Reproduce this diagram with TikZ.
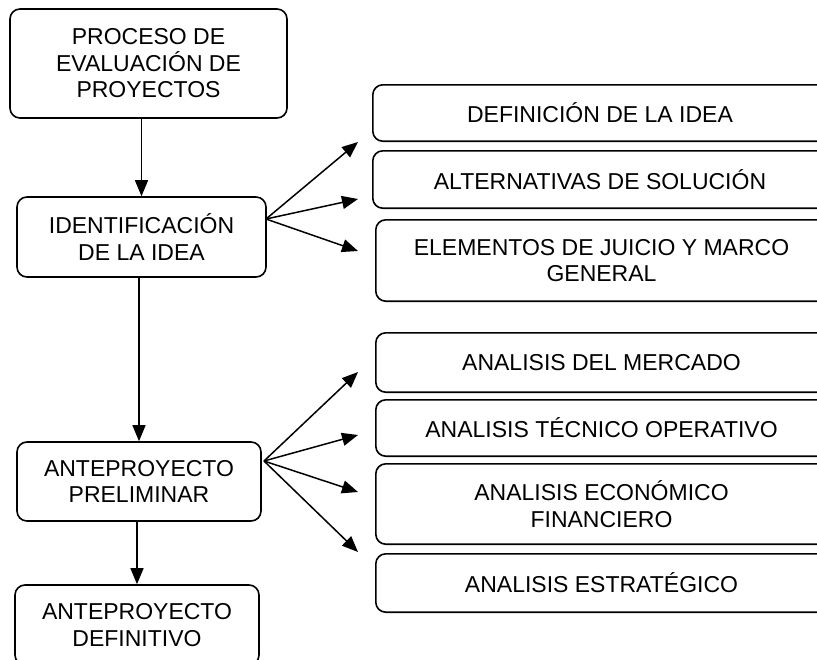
\documentclass[tikz,border=0pt]{standalone}
\usepackage{fontspec}
\setmainfont{Liberation Sans}
\usetikzlibrary{arrows.meta,calc}
\begin{document}
\begin{tikzpicture}[x=1pt,y=-1pt,
  box/.style={draw, line width=1.6pt, rounded corners=10pt, align=center, inner sep=0pt,
    font=\fontsize{23}{26.5}\selectfont},
  rbox/.style={align=center, inner sep=0pt, font=\fontsize{23}{26.5}\selectfont},
  rline/.style={draw, line width=1.6pt, rounded corners=10pt},
  arr/.style={line width=1.5pt, -{Triangle[length=16pt,width=13pt]}}]
\useasboundingbox (0,0) rectangle (817,659);
\clip (0,0) rectangle (817,659);
\node[box, minimum width=277pt, minimum height=109pt] (top) at (148.5,63.5) {PROCESO DE\\EVALUACIÓN DE\\PROYECTOS};
\node[box, minimum width=249pt, minimum height=80pt] (ident) at (141.5,237) {IDENTIFICACIÓN\\DE LA IDEA};
\node[box, minimum width=244pt, minimum height=79pt] (prel) at (139,481.5) {ANTEPROYECTO\\PRELIMINAR};
\node[box, minimum width=244pt, minimum height=80pt] (defi) at (137,625) {ANTEPROYECTO\\DEFINITIVO};
\node[rbox, minimum width=454pt, minimum height=56pt] (d1) at (600,113) {DEFINICIÓN DE LA IDEA};
\node[rbox, minimum width=454pt, minimum height=57pt] (d2) at (600,179.5) {ALTERNATIVAS DE SOLUCIÓN};
\node[rbox, minimum width=451pt, minimum height=81pt] (d3) at (601.5,260.5) {ELEMENTOS DE JUICIO Y MARCO\\GENERAL};
\node[rbox, minimum width=451pt, minimum height=59pt] (a1) at (601.5,362.5) {ANALISIS DEL MERCADO};
\node[rbox, minimum width=451pt, minimum height=56pt] (a2) at (601.5,428) {ANALISIS TÉCNICO OPERATIVO};
\node[rbox, minimum width=451pt, minimum height=80pt] (a3) at (601.5,504) {ANALISIS ECONÓMICO\\FINANCIERO};
\node[rbox, minimum width=451pt, minimum height=58pt] (a4) at (601.5,583) {ANALISIS ESTRATÉGICO};
\foreach \n in {d1,d2,d3,a1,a2,a3,a4}
  \draw[rline] (\n.north west) rectangle ($(\n.south east)+(40,0)$);
\draw[arr] (top.south -| ident.north) -- (ident.north);
\draw[arr] (ident.south -| prel.north) -- (prel.north);
\draw[arr] (prel.south -| defi.north) -- (defi.north);
\coordinate (f1) at (266,219);
\coordinate (t1) at (358,142);
\coordinate (t2) at (358,199);
\coordinate (t3) at (358,251);
\draw[arr] (f1) -- (t1);
\draw[arr] (f1) -- (t2);
\draw[arr] (f1) -- (t3);
\coordinate (f2) at (264,461);
\coordinate (u1) at (358,372);
\coordinate (u2) at (358,435);
\coordinate (u3) at (358,492);
\coordinate (u4) at (358,552);
\draw[arr] (f2) -- (u1);
\draw[arr] (f2) -- (u2);
\draw[arr] (f2) -- (u3);
\draw[arr] (f2) -- (u4);
\end{tikzpicture}
\end{document}
